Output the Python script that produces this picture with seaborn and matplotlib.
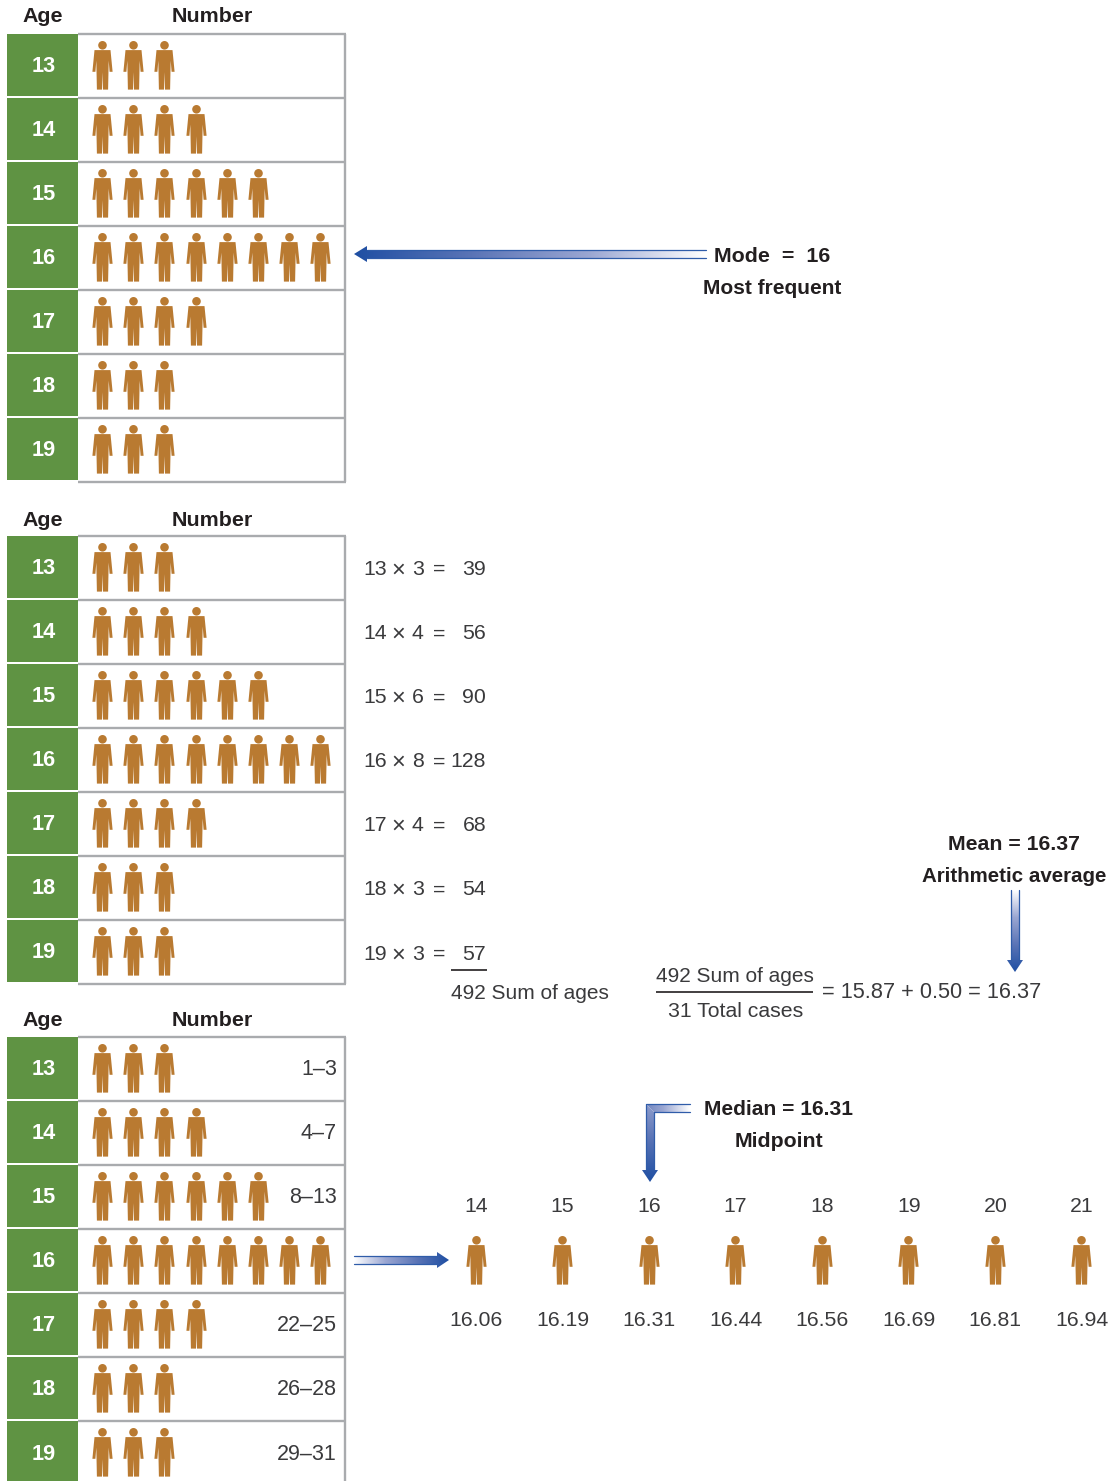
import numpy as np
import pandas as pd
import matplotlib
matplotlib.use("Agg")
import matplotlib.pyplot as plt
from matplotlib.path import Path
from matplotlib.patches import Polygon
from matplotlib.colors import LinearSegmentedColormap
import seaborn as sns

ages = [13, 14, 15, 16, 17, 18, 19]
counts = [3, 4, 6, 8, 4, 3, 3]
products = [39, 56, 90, 128, 68, 54, 57]
ranges = ["1–3", "4–7", "8–13", "", "22–25", "26–28", "29–31"]
median_ages = [14, 15, 16, 17, 18, 19, 20, 21]
median_values = ["16.06", "16.19", "16.31", "16.44", "16.56", "16.69", "16.81", "16.94"]

GREEN = "#5f9343"
BROWN = "#b97a31"
GRAY = "#a9abae"
INK = "#231f20"
TEXT = "#3a3a3c"
BLUE = "#1f4fa3"
panel_tops = [33.7, 535.7, 1036.7]
header_y = [15.5, 518.5, 1019.5]
ROW = 64.05
SLOT0, SLOT = 102.0, 31.2
NORMAL = 15.3
BOLD = 15.4

sns.set_theme(style="white")
plt.rcParams["font.family"] = ["Liberation Sans", "DejaVu Sans"]

fig = plt.figure(figsize=(11.16, 14.81), dpi=100)
ax = fig.add_axes([0, 0, 1, 1])
ax.axis("off")


def label(x, y, s, ha="center", size=NORMAL, bold=False, color=TEXT):
    ax.text(x, y + 1.5, s, ha=ha, va="center", fontsize=size,
            fontweight="bold" if bold else "normal", color=color, zorder=4)


# person glyph, pixel-sized, centred on the origin
half = [(0, 72), (0.5, 89.5), (5.6, 89.5), (6.2, 60.5), (7.1, 71.7), (10.1, 71.7), (8.0, 50)]
ymid = 65.4
right = [(x, ymid - y) for x, y in half]
left = [(-x, y) for x, y in reversed(right[1:])]
poly = right + left
body = Path(poly + [poly[0]], closed=True)
head = Path.circle((0, ymid - 45.2), 4.3)
person = Path.make_compound_path(body, head)
reach = float(np.abs(person.vertices).max())
person_s = (2 * reach * 72 / 100) ** 2

rows = []
for top in panel_tops:
    for r, n in enumerate(counts):
        for k in range(n):
            rows.append({"x": SLOT0 + k * SLOT, "y": top + r * ROW + 31.3})
people = pd.DataFrame(rows)
xs_med = 476 + 86.55 * np.arange(len(median_ages))
people_med = pd.DataFrame({"x": xs_med - 0.4, "y": 1259.5})
people = pd.concat([people, people_med], ignore_index=True)
sns.scatterplot(data=people, x="x", y="y", marker=person, s=person_s, color=BROWN,
                linewidth=0, ax=ax, legend=False, zorder=3)

for top, hy in zip(panel_tops, header_y):
    label(43, hy, "Age", size=BOLD, bold=True, color=INK)
    label(212, hy, "Number", size=BOLD, bold=True, color=INK)
    ys = top + ROW * np.arange(len(ages))
    ax.barh(ys + 0.4, [71] * len(ages), left=7, height=62, align="edge", color=GREEN, linewidth=0)
    ax.hlines(np.append(ys, ys[-1] + ROW), 78, 346, color=GRAY, lw=1.7)
    ax.vlines(345, top, ys[-1] + ROW, color=GRAY, lw=1.7)
    for y, a in zip(ys, ages):
        label(43.3, y + 31.5, str(a), size=15.6, bold=True, color="white")

# products
ys2 = panel_tops[1] + ROW * np.arange(len(ages)) + 32.5
for y, a, n, p in zip(ys2, ages, counts, products):
    label(363.5, y, str(a), ha="left")
    label(398.5, y + 1.2, "×", size=17)
    label(412, y, str(n), ha="left")
    label(433, y, "=", ha="left")
    label(486, y, str(p), ha="right")
ax.hlines(969.5, 451, 487, color=INK, lw=1.2)
label(451, 992, "492 Sum of ages", ha="left", size=15.0)
label(735, 975, "492 Sum of ages", size=15.0)
ax.hlines(992, 656, 813, color=INK, lw=1.2)
label(736, 1010, "31 Total cases")
label(822, 991, "= 15.87 + 0.50 = 16.37", ha="left", size=15.65)

# ranges
ys3 = panel_tops[2] + ROW * np.arange(len(ages)) + 31.5
for y, t in zip(ys3, ranges):
    if t:
        label(337, y, t, ha="right", size=15.5)

# median strip
for x, a, v in zip(xs_med, median_ages, median_values):
    label(x, 1205, str(a))
    label(x, 1319, v)

# callouts
label(714, 255, "Mode  =  16", ha="left", size=15.4, bold=True, color=INK)
label(772, 287, "Most frequent", size=15.0, bold=True, color=INK)
label(1014, 843, "Mean = 16.37", size=15.3, bold=True, color=INK)
label(1014, 875, "Arithmetic average", size=14.8, bold=True, color=INK)
label(778, 1108, "Median = 16.31", size=15.1, bold=True, color=INK)
label(779, 1140, "Midpoint", size=15.3, bold=True, color=INK)

# gradient arrows
cmap = LinearSegmentedColormap.from_list("fade", ["#ffffff", "#9aa6d2", "#5a74b6", BLUE])
EDGE = "#2f5ca9"


def gradient(pts, extent, direction, lo=0.0, hi=1.0):
    grad = np.linspace(lo, hi, 256)
    arr = grad[None, :] if direction == "h" else grad[:, None]
    im = ax.imshow(arr, extent=extent, cmap=cmap, vmin=0, vmax=1, aspect="auto",
                   origin="upper", zorder=2, interpolation="bilinear")
    clip = Polygon(pts, closed=True, transform=ax.transData, fc="none", ec="none")
    ax.add_patch(clip)
    im.set_clip_path(clip)


# mode arrow (points left)
gradient([(354, 254), (367, 246), (367, 250), (706, 250), (706, 258), (367, 258), (367, 262)],
         (354, 706, 262, 246), "h", 1.0, 0.0)
ax.plot([706, 367], [250, 250], color=EDGE, lw=0.9, zorder=2)
ax.plot([706, 367], [258, 258], color=EDGE, lw=0.9, zorder=2)

# strip arrow (points right)
gradient([(449, 1260), (437, 1252), (437, 1256), (354, 1256), (354, 1264), (437, 1264), (437, 1268)],
         (354, 449, 1268, 1252), "h", 0.0, 1.0)
ax.plot([354, 437], [1256, 1256], color=EDGE, lw=0.9, zorder=2)
ax.plot([354, 437], [1264, 1264], color=EDGE, lw=0.9, zorder=2)

# mean arrow (points down)
gradient([(1015, 972), (1007, 960), (1011, 960), (1011, 890), (1019, 890), (1019, 960), (1023, 960)],
         (1007, 1023, 972, 890), "v", 0.0, 1.0)
ax.plot([1011, 1011], [890, 960], color=EDGE, lw=0.9, zorder=2)
ax.plot([1019, 1019], [890, 960], color=EDGE, lw=0.9, zorder=2)

# median elbow arrow
gradient([(690, 1104), (646, 1104), (654, 1112), (690, 1112)], (646, 690, 1112, 1104), "h", 0.55, 0.0)
gradient([(646, 1104), (654, 1112), (654, 1170), (658, 1170), (650, 1182), (642, 1170), (646, 1170)],
         (642, 658, 1182, 1104), "v", 0.4, 1.0)
ax.plot([690, 646, 646], [1104, 1104, 1170], color=EDGE, lw=0.9, zorder=2)
ax.plot([690, 654, 654], [1112, 1112, 1170], color=EDGE, lw=0.9, zorder=2)

ax.set_xlim(0, 1116)
ax.set_ylim(1481, 0)
fig.savefig("out.png", dpi=100, facecolor="white")
